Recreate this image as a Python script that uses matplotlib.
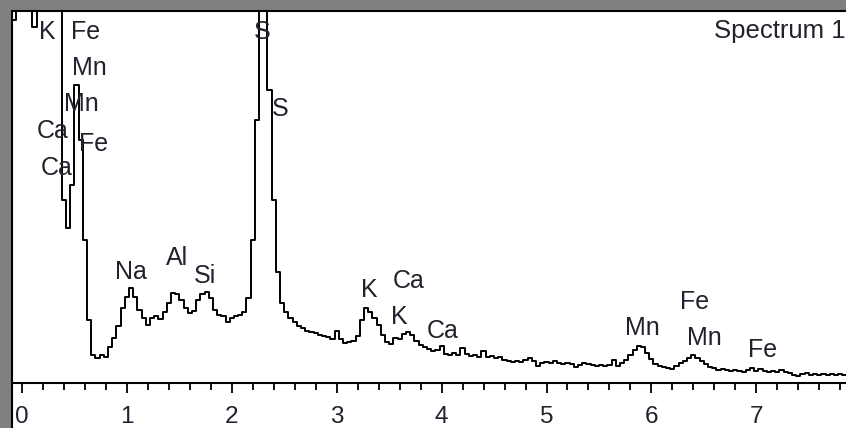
#!/usr/bin/env python3

import matplotlib
matplotlib.use("Agg")
import matplotlib.pyplot as plt
import numpy as np
from matplotlib.ticker import MultipleLocator

# channel calibration (keV)
ch_start = -0.08
ch_width = 0.04

# counts per channel (off-scale peaks are just "big")
counts = [
    363, 450, 460, 470, 455, 356, 440, 450, 440, 430, 420, 410, 183, 155, 198, 298, 243, 143, 63, 28,
    25, 28, 26, 36, 45, 57, 75, 86, 95, 86, 73, 65, 58, 65, 67, 64, 71, 80, 90, 89,
    83, 75, 70, 72, 83, 89, 91, 85, 73, 68, 67, 61, 65, 67, 68, 71, 85, 143, 263, 800,
    700, 293, 183, 111, 80, 71, 65, 61, 57, 55, 52, 51, 50, 48, 47, 46, 44, 52, 44, 40,
    41, 42, 47, 63, 75, 71, 65, 58, 48, 41, 39, 45, 44, 49, 51, 48, 42, 38, 36, 34,
    32, 33, 37, 29, 28, 30, 28, 35, 29, 27, 28, 26, 32, 26, 27, 25, 26, 23, 22, 21,
    22, 21, 23, 25, 22, 17, 20, 21, 20, 22, 20, 19, 20, 19, 16, 18, 20, 19, 18, 17,
    18, 17, 18, 23, 17, 20, 23, 28, 33, 37, 36, 30, 24, 19, 17, 16, 15, 14, 17, 20,
    22, 25, 28, 25, 22, 19, 16, 15, 13, 14, 13, 12, 13, 12, 11, 13, 15, 12, 14, 12,
    11, 12, 11, 13, 11, 10, 8, 7, 9, 10, 8, 9, 8, 9, 8, 9, 8, 9, 8, 8,
]

# peak labels: text, energy (keV), height of label centre
peak_names = ["K", "Fe", "Mn", "Mn", "Ca", "Fe", "Ca", "S", "S", "Na", "Al", "Si",
              "K", "Ca", "K", "Ca", "Mn", "Fe", "Mn", "Fe"]
peak_kev = [0.238, 0.610, 0.639, 0.562, 0.296, 0.686, 0.334, 2.288, 2.459, 1.039,
            1.478, 1.745, 3.308, 3.689, 3.594, 4.013, 5.910, 6.416, 6.501, 7.064]
peak_y = [351, 351, 315, 279, 252, 239, 215, 351, 274, 111,
          125, 107, 93, 102, 66, 52, 55, 81, 45, 33]

title = "Spectrum 1"

plt.rcParams['font.family'] = ['Liberation Sans', 'DejaVu Sans']
txt_col = '#22222e'

fig = plt.figure(figsize=(8.46, 4.28), dpi=100, facecolor='#808080')
ax = fig.add_axes([12 / 846, 0, 834 / 846, 417 / 428])
ax.set_facecolor('white')

energy = ch_start + ch_width * np.arange(len(counts))
ax.plot(energy, counts, drawstyle='steps-mid', color='black', lw=1.4)

for name, e, y in zip(peak_names, peak_kev, peak_y):
    ax.text(e, y, name, ha='center', va='center', fontsize=18, color=txt_col)

ax.text(0.9995, 0.953, title, transform=ax.transAxes, ha='right', va='center',
        fontsize=18.5, color=txt_col)

ax.set_xlim(-10 / 104.9, 824 / 104.9)
ax.set_ylim(-45, 372)

ax.spines['right'].set_visible(False)
for s in ['top', 'left', 'bottom']:
    ax.spines[s].set_linewidth(1.5)
    ax.spines[s].set_color('black')
ax.spines['bottom'].set_position(('data', 0))

ax.set_yticks([])
ax.xaxis.set_major_locator(MultipleLocator(1))
ax.xaxis.set_minor_locator(MultipleLocator(0.2))
ax.tick_params(axis='x', which='major', direction='out', length=7.5, width=1.3,
               labelsize=17.5, labelcolor=txt_col, pad=9)
ax.tick_params(axis='x', which='minor', direction='out', length=5, width=1.3)

plt.savefig("out.png", dpi=100, facecolor=fig.get_facecolor())
